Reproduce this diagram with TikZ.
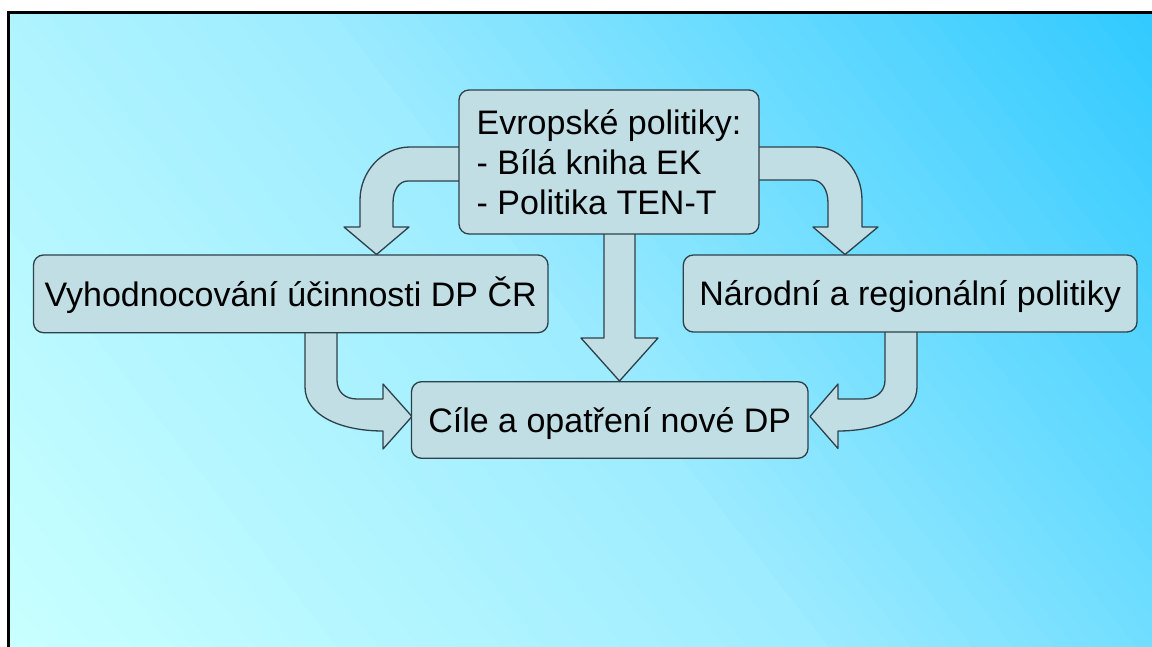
\documentclass[tikz,border=0pt]{standalone}
\usepackage{fontspec}
\setmainfont{Liberation Sans}
\definecolor{bgA}{RGB}{200,255,255}
\definecolor{bgM}{RGB}{156,235,255}
\definecolor{bgB}{RGB}{50,202,255}
\definecolor{boxc}{RGB}{192,222,228}
\definecolor{edgec}{RGB}{45,65,75}
\tikzset{
  box/.style={draw=edgec, fill=boxc, line width=1.3pt, rounded corners=10pt, inner sep=0pt,
    font=\fontsize{34}{40}\selectfont},
  oneline/.style={text height=24.5pt, text depth=0pt},
  arr/.style={draw=edgec, fill=boxc, line width=1.3pt, line join=round}
}
\begin{document}
\begin{tikzpicture}[x=1pt,y=-1pt]
\useasboundingbox (0,0) rectangle (1152,646);
\begin{scope}
\clip (8.5,12.5) rectangle (1170,666);
% diagonal gradient drawn as bands (from bottom-left light to top-right saturated)
\pgfmathsetmacro\ca{cos(38)}
\pgfmathsetmacro\sa{sin(38)}
\pgfmathsetmacro\dl{(1144*\ca+634*\sa)/80}
\foreach \i in {0,...,79} {
  \pgfmathsetmacro\ta{\i*\dl}
  \pgfmathsetmacro\tb{(\i+1.3)*\dl}
  \pgfmathtruncatemacro\pp{\i<40 ? 2.5*\i : 2.5*(\i-40)+2.5}
  \ifnum\i<40 \colorlet{bandc}{bgM!\pp!bgA}\else\colorlet{bandc}{bgB!\pp!bgM}\fi
  \fill[bandc, shift={(8.5,646)}]
    ({\ta*\ca-900*\sa},{-\ta*\sa-900*\ca}) -- ({\ta*\ca+900*\sa},{-\ta*\sa+900*\ca})
    -- ({\tb*\ca+900*\sa},{-\tb*\sa+900*\ca}) -- ({\tb*\ca-900*\sa},{-\tb*\sa-900*\ca}) -- cycle;
}
\end{scope}
\draw[line width=3pt] (1170,12.5) -- (8.5,12.5) -- (8.5,666);

% arrows
\path[arr] (470,147) -- (410,147) .. controls (382,147) and (360,172) .. (360,200)
  -- (360,227) -- (344,227) -- (376.5,254.5) -- (409,227) -- (393,227) -- (393,203)
  .. controls (393,190) and (399,181) .. (408,181) -- (470,181) -- cycle;
\path[arr] (752,147) -- (815,147) .. controls (842,147) and (862,172) .. (862,200)
  -- (862,227) -- (878,227) -- (845,254.5) -- (813,227) -- (828,227) -- (828,203)
  .. controls (828,190) and (822,180) .. (812,180) -- (752,180) -- cycle;
\path[arr] (604,225) -- (604,338) -- (581,338) -- (619.5,381) -- (658,338) -- (635,338) -- (635,225) -- cycle;
\path[arr] (305,325) -- (305,387) .. controls (305,415) and (340,431) .. (383,431)
  -- (383,449) -- (412,416.5) -- (383,384) -- (383,399) -- (357,399)
  .. controls (345,399) and (337,392) .. (337,380) -- (337,325) -- cycle;
\path[arr] (917,325) -- (917,387) .. controls (917,415) and (880,431) .. (838,431)
  -- (838,448.5) -- (810,416.5) -- (838,384) -- (838,399) -- (863,399)
  .. controls (876,399) and (885,392) .. (885,380) -- (885,325) -- cycle;

% boxes
\node[box, minimum width=300pt, minimum height=144pt, align=left] (eu) at (609,162)
  {Evropské politiky:\\- Bílá kniha EK\\- Politika TEN-T};
\node[box, oneline, minimum width=514.5pt, minimum height=77.7pt] (eval) at (290.75,293.85)
  {Vyhodnocování účinnosti DP ČR};
\node[box, oneline, minimum width=453.7pt, minimum height=77pt] (nat) at (910.15,293.5)
  {Národní a regionální politiky};
\node[box, oneline, minimum width=396.5pt, minimum height=76.6pt] (goal) at (609.75,420)
  {Cíle a opatření nové DP};
\end{tikzpicture}
\end{document}
